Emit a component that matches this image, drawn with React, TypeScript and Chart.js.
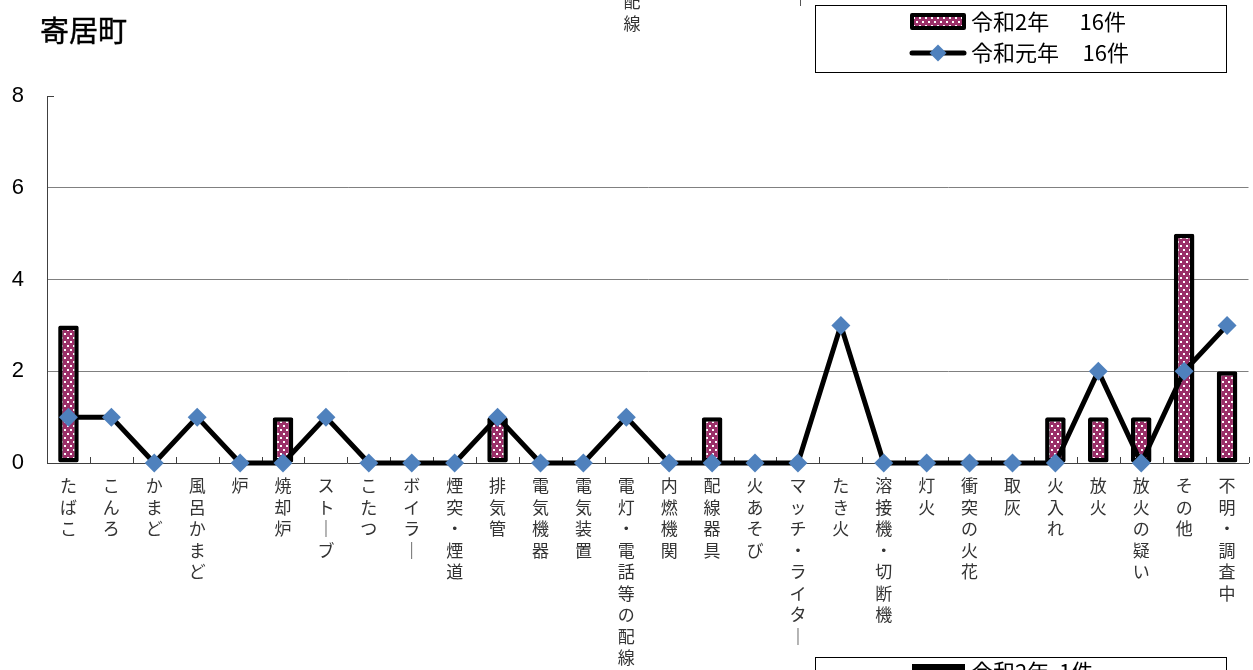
import React, { useEffect, useRef } from 'react';
import { Chart, registerables } from 'chart.js';

Chart.register(...registerables);

const categories = [
  'たばこ', 'こんろ', 'かまど', '風呂かまど', '炉', '焼却炉', 'ストーブ', 'こたつ', 'ボイラー',
  '煙突・煙道', '排気管', '電気機器', '電気装置', '電灯・電話等の配線', '内燃機関', '配線器具',
  '火あそび', 'マッチ・ライター', 'たき火', '溶接機・切断機', '灯火', '衝突の火花', '取灰',
  '火入れ', '放火', '放火の疑い', 'その他', '不明・調査中',
];
const reiwa2 = [3, 0, 0, 0, 0, 1, 0, 0, 0, 0, 1, 0, 0, 0, 0, 1, 0, 0, 0, 0, 0, 0, 0, 1, 1, 1, 5, 2];
const reiwa1 = [1, 1, 0, 1, 0, 0, 1, 0, 0, 0, 1, 0, 0, 1, 0, 0, 0, 0, 3, 0, 0, 0, 0, 0, 2, 0, 2, 3];
const seriesNames = ['令和2年', '令和元年'];
const seriesTotals = ['16件', '16件'];
const yTicks = [0, 2, 4, 6, 8];
const title = '寄居町';

const BAR_COLOR = '#9a2f68';
const POINT_COLOR = '#4F81BD';
const CJK = '"Noto Sans CJK JP", "Noto Sans", sans-serif';
const CANVAS_W = 1258;

function makePattern(ctx: CanvasRenderingContext2D): CanvasPattern | string {
  const c = document.createElement('canvas');
  c.width = 6;
  c.height = 8;
  const g = c.getContext('2d');
  if (!g) return BAR_COLOR;
  g.fillStyle = BAR_COLOR;
  g.fillRect(0, 0, 6, 8);
  g.fillStyle = '#ffffff';
  g.fillRect(1, 1, 2, 2);
  g.fillRect(4, 5, 2, 2);
  return ctx.createPattern(c, 'repeat') || BAR_COLOR;
}

function verticalLabel(s: string): string[] {
  return Array.from(s).map((ch) => (ch === 'ー' ? '｜' : ch));
}

export default function App() {
  const ref = useRef<HTMLCanvasElement | null>(null);

  useEffect(() => {
    const canvas = ref.current;
    if (!canvas) return;
    const ctx = canvas.getContext('2d');
    if (!ctx) return;
    const pattern = makePattern(ctx);

    const innerTicks = {
      id: 'innerTicks',
      beforeDatasetsDraw(chart: any) {
        const x = chart.scales.x;
        const y = chart.scales.y;
        const c = chart.ctx;
        c.save();
        c.strokeStyle = '#404040';
        c.lineWidth = 1;
        c.beginPath();
        const bottom = y.getPixelForValue(0);
        for (let i = 1; i <= categories.length; i++) {
          const px =
            i < categories.length
              ? (x.getPixelForValue(i - 1) + x.getPixelForValue(i)) / 2
              : chart.chartArea.right;
          const rx = Math.round(px) + 0.5;
          c.moveTo(rx, bottom);
          c.lineTo(rx, bottom - 6);
        }
        const top = Math.round(y.getPixelForValue(yTicks[yTicks.length - 1])) + 0.5;
        c.moveTo(chart.chartArea.left, top);
        c.lineTo(chart.chartArea.left + 7, top);
        c.stroke();
        c.restore();
      },
    };

    const boxLegend = {
      id: 'boxLegend',
      afterDraw(chart: any) {
        const c = chart.ctx;
        const ds = chart.data.datasets;
        const barDs = ds.find((d: any) => d.type === 'bar');
        const lineDs = ds.find((d: any) => d.type === 'line');
        c.save();
        c.strokeStyle = '#000';
        c.lineWidth = 1;
        c.strokeRect(815.5, 5.5, 411, 67);
        // entry 1: bar
        const bx = 912, by = 15, bw = 52, bh = 13;
        c.fillStyle = barDs.backgroundColor;
        c.fillRect(bx, by, bw, bh);
        c.lineWidth = 4;
        c.strokeStyle = barDs.borderColor;
        c.lineJoin = 'round';
        c.strokeRect(bx, by, bw, bh);
        // entry 2: line + diamond
        const ly = 53;
        c.beginPath();
        c.lineWidth = 5;
        c.strokeStyle = lineDs.borderColor;
        c.lineCap = 'round';
        c.moveTo(912, ly);
        c.lineTo(964, ly);
        c.stroke();
        c.beginPath();
        const r = 8.5, cx = 938;
        c.moveTo(cx - r, ly);
        c.lineTo(cx, ly - r);
        c.lineTo(cx + r, ly);
        c.lineTo(cx, ly + r);
        c.closePath();
        c.fillStyle = lineDs.pointBackgroundColor;
        c.fill();
        // text
        c.fillStyle = '#000';
        c.font = `22px ${CJK}`;
        c.textBaseline = 'middle';
        c.textAlign = 'left';
        c.fillText(barDs.label, 971, 22);
        c.fillText(lineDs.label, 971, 53);
        c.textAlign = 'right';
        c.fillText(seriesTotals[0], 1126, 22);
        c.fillText(seriesTotals[1], 1129, 53);
        c.restore();
      },
    };

    const chart = new Chart(ctx, {
      type: 'bar',
      data: {
        labels: categories,
        datasets: [
          {
            type: 'line',
            label: seriesNames[1],
            data: reiwa1,
            borderColor: '#000000',
            borderWidth: 5,
            tension: 0,
            pointStyle: 'rectRot',
            pointRadius: 9.5,
            pointHoverRadius: 9.5,
            pointBackgroundColor: POINT_COLOR,
            pointBorderColor: POINT_COLOR,
            pointBorderWidth: 0,
            clip: false,
            order: 0,
          } as any,
          {
            type: 'bar',
            label: seriesNames[0],
            data: reiwa2.map((v) => (v === 0 ? null : v)),
            backgroundColor: pattern as any,
            borderColor: '#000000',
            borderWidth: 4.5,
            borderRadius: 2,
            borderSkipped: false,
            barPercentage: 0.48,
            categoryPercentage: 1,
            order: 1,
          } as any,
        ],
      },
      options: {
        responsive: false,
        animation: false,
        events: [],
        layout: { padding: { top: 96, right: 0, left: 0, bottom: 0 } },
        plugins: {
          legend: { display: false },
          tooltip: { enabled: false },
          title: { display: false },
        },
        scales: {
          x: {
            type: 'category',
            offset: true,
            grid: { display: false, drawTicks: false },
            border: { display: true, color: '#404040', width: 1 },
            afterFit: (s: any) => {
              s.height = 207;
              s.paddingRight = 0;
              s.paddingLeft = 0;
            },
            ticks: {
              autoSkip: false,
              maxRotation: 0,
              minRotation: 0,
              padding: 12,
              color: '#333333',
              font: { family: CJK, size: 17, lineHeight: 1.265 },
              callback: (_v: any, i: number) => verticalLabel(categories[i]),
            },
          },
          y: {
            min: 0,
            max: 8,
            afterFit: (s: any) => {
              s.width = 47;
            },
            afterBuildTicks: (s: any) => {
              s.ticks = yTicks.map((v) => ({ value: v }));
            },
            grid: {
              drawTicks: false,
              color: (c: any) =>
                c.tick && (c.tick.value === 0 || c.tick.value === 8) ? 'rgba(0,0,0,0)' : '#808080',
              lineWidth: 1,
            },
            border: { display: true, color: '#404040', width: 1 },
            ticks: {
              padding: 23,
              color: '#000000',
              font: { family: '"Liberation Sans", Arial, sans-serif', size: 22 },
            },
          },
        },
      },
      plugins: [innerTicks, boxLegend],
    });

    return () => {
      chart.destroy();
    };
  }, []);

  return (
    <div
      style={{
        position: 'fixed',
        left: 0,
        top: 0,
        width: 1253,
        height: 670,
        overflow: 'hidden',
        background: '#ffffff',
      }}
    >
      <canvas
        ref={ref}
        width={CANVAS_W}
        height={670}
        style={{ position: 'absolute', left: 0, top: 0, width: CANVAS_W, height: 670 }}
      />
      <div
        style={{
          position: 'absolute',
          left: 40,
          top: 15,
          fontFamily: CJK,
          fontSize: 29,
          lineHeight: 1,
          color: '#000',
          WebkitTextStroke: '0.4px #000',
        }}
      >
        {title}
      </div>
      {/* remnants of the neighbouring charts on the page */}
      <div
        style={{
          position: 'absolute',
          left: 622,
          top: -10,
          fontFamily: CJK,
          fontSize: 17,
          lineHeight: '21.5px',
          color: '#333',
          width: 20,
          textAlign: 'center',
        }}
      >
        <div>配</div>
        <div>線</div>
      </div>
      <div style={{ position: 'absolute', left: 800, top: 0, width: 1, height: 6, background: '#555' }} />
      <div
        style={{
          position: 'absolute',
          left: 815,
          top: 657,
          width: 410,
          height: 60,
          border: '1px solid #000',
        }}
      />
      <div style={{ position: 'absolute', left: 912, top: 664, width: 53, height: 14, background: '#000' }} />
      <div
        style={{
          position: 'absolute',
          left: 971,
          top: 659,
          fontFamily: CJK,
          fontSize: 22,
          lineHeight: 1,
          color: '#000',
          whiteSpace: 'pre',
        }}
      >
        {'令和2年  1件'}
      </div>
    </div>
  );
}
